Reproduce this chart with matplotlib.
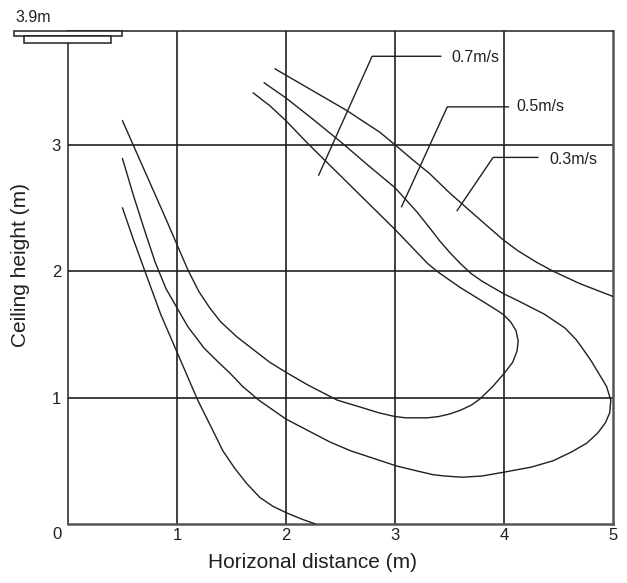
"""Air velocity distribution from a ceiling cassette (side view)."""

import matplotlib

matplotlib.use("Agg")
import matplotlib.pyplot as plt  # noqa: E402
from matplotlib.patches import Rectangle  # noqa: E402

plt.rcParams["font.family"] = ["Liberation Sans", "DejaVu Sans"]

INK = "#231f20"

# contour lines (x = horizontal distance, y = height)
v07_x = [0.50, 0.70, 0.90, 1.00, 1.10, 1.20, 1.30, 1.40, 1.55, 1.70, 1.85,
         2.00, 2.20, 2.47, 2.70, 2.85, 3.00, 3.10, 3.20, 3.30, 3.40, 3.50,
         3.60, 3.70, 3.78, 3.90, 4.00, 4.08, 4.12, 4.13, 4.11, 4.06, 3.99,
         3.90, 3.75, 3.60, 3.50, 3.40, 3.30, 3.20, 3.10, 3.00, 2.80, 2.60,
         2.40, 2.20, 2.00, 1.85, 1.70]
v07_y = [3.19, 2.80, 2.41, 2.21, 2.01, 1.84, 1.71, 1.60, 1.48, 1.38, 1.28,
         1.20, 1.10, 0.98, 0.92, 0.88, 0.85, 0.84, 0.84, 0.84, 0.85, 0.87,
         0.90, 0.94, 0.99, 1.09, 1.19, 1.28, 1.37, 1.45, 1.53, 1.60, 1.66,
         1.71, 1.79, 1.87, 1.93, 1.99, 2.06, 2.15, 2.24, 2.33, 2.50, 2.67,
         2.84, 3.01, 3.19, 3.31, 3.41]

v05_x = [0.50, 0.60, 0.70, 0.80, 0.90, 1.00, 1.10, 1.25, 1.38, 1.49, 1.60,
         1.75, 1.85, 2.00, 2.20, 2.40, 2.59, 2.80, 3.01, 3.20, 3.35, 3.45,
         3.62, 3.80, 4.00, 4.25, 4.45, 4.62, 4.76, 4.86, 4.93, 4.97, 4.98,
         4.94, 4.87, 4.80, 4.72, 4.66, 4.56, 4.37, 4.12, 4.00, 3.80, 3.70,
         3.60, 3.50, 3.41, 3.32, 3.20, 3.00, 2.75, 2.52, 2.25, 2.00, 1.80]
v05_y = [2.89, 2.60, 2.33, 2.07, 1.86, 1.71, 1.56, 1.39, 1.28, 1.19, 1.09,
         0.98, 0.92, 0.83, 0.74, 0.65, 0.58, 0.52, 0.46, 0.42, 0.39, 0.38,
         0.37, 0.38, 0.41, 0.45, 0.50, 0.57, 0.64, 0.72, 0.80, 0.88, 0.98,
         1.09, 1.19, 1.29, 1.39, 1.46, 1.55, 1.66, 1.77, 1.82, 1.92, 1.98,
         2.06, 2.15, 2.24, 2.34, 2.47, 2.66, 2.84, 3.01, 3.20, 3.37, 3.49]

v03_low_x = [0.50, 0.60, 0.71, 0.85, 0.99, 1.10, 1.19, 1.30, 1.42, 1.53,
             1.64, 1.76, 1.88, 2.00, 2.14, 2.27]
v03_low_y = [2.50, 2.25, 1.99, 1.66, 1.38, 1.16, 0.98, 0.79, 0.58, 0.44,
             0.32, 0.21, 0.14, 0.09, 0.04, 0.00]
v03_up_x = [1.90, 2.00, 2.20, 2.40, 2.56, 2.70, 2.86, 3.00, 3.15, 3.32,
            3.50, 3.75, 3.99, 4.13, 4.30, 4.45, 4.70, 5.00]
v03_up_y = [3.60, 3.55, 3.45, 3.35, 3.27, 3.19, 3.10, 3.00, 2.89, 2.77,
            2.62, 2.43, 2.25, 2.16, 2.07, 2.00, 1.90, 1.80]

# leader lines and their labels
labels = ["0.7m/s", "0.5m/s", "0.3m/s"]
leader_x = [[2.30, 2.79, 3.42], [3.06, 3.48, 4.04], [3.57, 3.90, 4.31]]
leader_y = [[2.76, 3.70, 3.70], [2.51, 3.30, 3.30], [2.48, 2.90, 2.90]]
label_x = [3.52, 4.11, 4.42]
label_y = [3.69, 3.30, 2.88]

x_ticks = [1, 2, 3, 4, 5]
y_ticks = [1, 2, 3]
room_height = 3.9

fig = plt.figure(figsize=(6.27, 5.83), dpi=100)
ax = fig.add_axes([68 / 627, 59 / 583, 545 / 627, 493 / 583])
ax.set_xlim(0, 5)
ax.set_ylim(0, room_height)

for xv in x_ticks[:-1]:
    ax.axvline(xv, color=INK, lw=1.2, zorder=1)
for yv in y_ticks:
    ax.axhline(yv, color=INK, lw=1.2, zorder=1)

for xs, ys in [(v07_x, v07_y), (v05_x, v05_y),
               (v03_low_x, v03_low_y), (v03_up_x, v03_up_y)]:
    ax.plot(xs, ys, color=INK, lw=1.0, zorder=3, solid_joinstyle="round")

for lab, lx, ly, tx, ty in zip(labels, leader_x, leader_y, label_x, label_y):
    ax.plot(lx, ly, color=INK, lw=1.0, zorder=3)
    ax.text(tx, ty, lab, ha="left", va="center", fontsize=11.5, color=INK)

for side in ["left", "top"]:
    ax.spines[side].set_color(INK)
    ax.spines[side].set_linewidth(1.1)
for side in ["right", "bottom"]:
    ax.spines[side].set_color("#555555")
    ax.spines[side].set_linewidth(1.8)

# ceiling unit
ax.add_patch(Rectangle((-0.495, 3.86), 0.99, 0.04, facecolor="white",
                       edgecolor=INK, lw=1.1, clip_on=False, zorder=6))
ax.add_patch(Rectangle((-0.40, 3.805), 0.79, 0.055, facecolor="white",
                       edgecolor=INK, lw=1.1, clip_on=False, zorder=6))

ax.set_xticks(x_ticks)
ax.set_yticks(y_ticks)
ax.tick_params(length=0, labelsize=12, colors=INK)
ax.tick_params(axis="x", pad=3)
ax.tick_params(axis="y", pad=5)
ax.text(-0.10, -0.08, "0", ha="center", va="center", fontsize=12, color=INK)

fig.text(15 / 627, 1 - 18 / 583, f"{room_height}m", ha="left", va="center",
         fontsize=11.5, color=INK)
fig.text(313 / 627, 1 - 563 / 583, "Horizonal distance (m)", ha="center",
         va="center", fontsize=15, color=INK)
fig.text(21 / 627, 1 - 265 / 583, "Ceiling height (m)", ha="center",
         va="center", rotation=90, fontsize=15, color=INK)

fig.savefig("out.png", dpi=100)
